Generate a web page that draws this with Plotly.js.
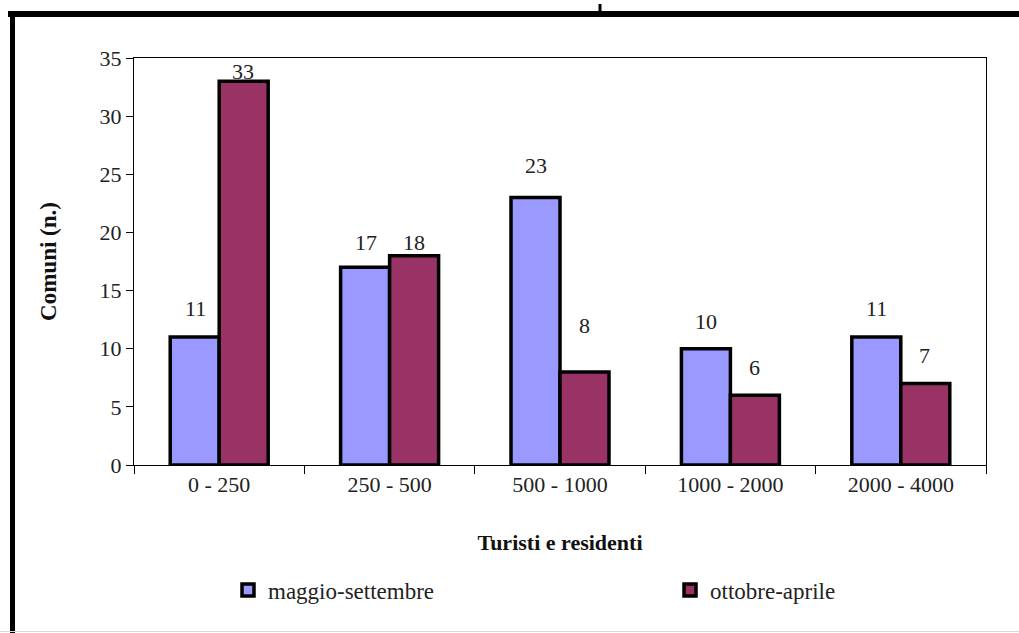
<!DOCTYPE html>
<html>
<head>
<meta charset="utf-8">
<script src="https://cdn.plot.ly/plotly-3.0.1.min.js"></script>
<style>html,body{margin:0;padding:0;background:#fff;}#chart{width:1019px;height:633px;}</style>
</head>
<body>
<div id="chart"></div>
<script>
const categories = ["0 - 250", "250 - 500", "500 - 1000", "1000 - 2000", "2000 - 4000"];
const seriesNames = ["maggio-settembre", "ottobre-aprile"];
const maggioSettembre = [11, 17, 23, 10, 11];
const ottobreAprile = [33, 18, 8, 6, 7];

// label vertical offsets (px) above bar tops, as placed in the original
const shiftA = [29, 25, 32, 27, 29];
const shiftB = [10, 13, 46, 28, 28];

const serif = "Liberation Serif, Times New Roman, serif";
const colA = "#9999FF", colB = "#993366";
const FS = 22;

const traces = [
  {type: "bar", name: seriesNames[0], x: categories, y: maggioSettembre, legend: "legend",
   marker: {color: colA, line: {color: "#000", width: 3.5}}, hoverinfo: "x+y"},
  {type: "bar", name: seriesNames[1], x: categories, y: ottobreAprile, legend: "legend2",
   marker: {color: colB, line: {color: "#000", width: 3.5}}, hoverinfo: "x+y"}
];

const annotations = [];
categories.forEach((c, i) => {
  annotations.push({x: c, y: maggioSettembre[i], text: String(maggioSettembre[i]), showarrow: false,
    xshift: -24, yshift: shiftA[i], yanchor: "middle", font: {family: serif, size: FS, color: "#222"}});
  annotations.push({x: c, y: ottobreAprile[i], text: String(ottobreAprile[i]), showarrow: false,
    xshift: 24, yshift: shiftB[i], yanchor: "middle", font: {family: serif, size: FS, color: "#222"}});
});

const W = 852, H = 407, L = 134, T = 58;
const px = v => (v - L) / W;
const py = v => (T + H - v) / H;

const shapes = [
  {type: "line", xref: "paper", yref: "paper", x0: px(8), x1: px(1019), y0: py(14), y1: py(14), line: {color: "#000", width: 6}},
  {type: "line", xref: "paper", yref: "paper", x0: px(12.5), x1: px(12.5), y0: py(11), y1: py(633), line: {color: "#000", width: 5}},
  {type: "line", xref: "paper", yref: "paper", x0: px(600), x1: px(600), y0: py(4), y1: py(12), line: {color: "#000", width: 3}},
  {type: "line", xref: "paper", yref: "paper", x0: px(0), x1: px(1019), y0: py(631.5), y1: py(631.5), line: {color: "#d8d8d8", width: 1}}
];

const legFont = {family: serif, size: 23, color: "#222"};

const layout = {
  width: 1019, height: 633,
  margin: {l: L, r: 33, t: T, b: 168},
  paper_bgcolor: "#fff", plot_bgcolor: "#fff",
  barmode: "group", bargap: 0.425, bargroupgap: 0,
  font: {family: serif, color: "#222"},
  showlegend: true,
  legend: {orientation: "h", x: px(228), xanchor: "left", y: py(590), yanchor: "middle",
    itemwidth: 30, font: legFont, bgcolor: "rgba(0,0,0,0)"},
  legend2: {orientation: "h", x: px(670), xanchor: "left", y: py(590), yanchor: "middle",
    itemwidth: 30, font: legFont, bgcolor: "rgba(0,0,0,0)"},
  xaxis: {
    type: "category", showline: true, linecolor: "#000", linewidth: 1, mirror: true,
    ticks: "outside", tickson: "boundaries", ticklen: 8, tickcolor: "#000",
    showgrid: false, tickfont: {family: serif, size: FS, color: "#222"},
    title: {text: "<b>Turisti e residenti</b>", standoff: 38, font: {family: serif, size: FS, color: "#111"}}
  },
  yaxis: {
    range: [0, 35], dtick: 5, showline: true, linecolor: "#000", linewidth: 1, mirror: true,
    ticks: "outside", ticklen: 7, tickcolor: "#000", showgrid: false, zeroline: false,
    tickfont: {family: serif, size: FS, color: "#222"},
    title: {text: "<b>Comuni (n.)</b>", standoff: 36, font: {family: serif, size: 23, color: "#111"}}
  },
  annotations: annotations,
  shapes: shapes
};

Plotly.newPlot("chart", traces, layout, {displayModeBar: false, staticPlot: true});
</script>
</body>
</html>
